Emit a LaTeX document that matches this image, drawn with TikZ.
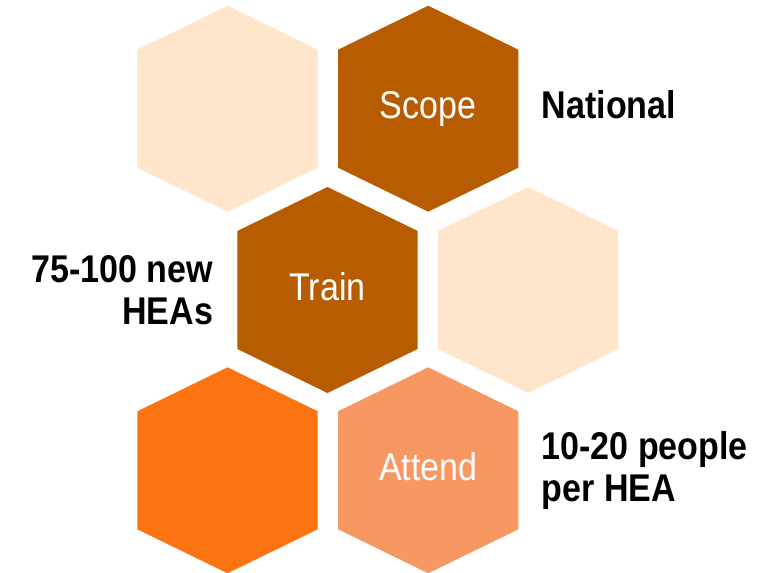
\documentclass[tikz,border=0pt]{standalone}
\usepackage{fontspec}
\setmainfont{Liberation Sans}
\newfontfamily\narrowfont[FakeStretch=0.88]{Liberation Sans}
\usepackage{xcolor}
\usetikzlibrary{positioning}

\definecolor{hexlight}{HTML}{FFE5CC}
\definecolor{hexbrown}{HTML}{B75C00}
\definecolor{hexorange}{HTML}{FC7312}
\definecolor{hexsalmon}{HTML}{F79862}

% hexagon cell: name, centre, colour
\newcommand{\hexcell}[3]{%
  \fill[#3,shift={(#2)}] (90.2,-59) -- (0,-103) -- (-90.2,-59) -- (-90.2,59) -- (0,103) -- (90.2,59) -- cycle;
  \path[shift={(#2)}] (0,0) coordinate (#1) (90.2,0) coordinate (#1-e) (-90.2,0) coordinate (#1-w);
}

\begin{document}
\begin{tikzpicture}[x=0.75pt,y=-0.75pt,
    hexlabel/.style={text=white,font=\narrowfont\fontsize{29}{34}\selectfont,
        text height=21.2pt,text depth=6.1pt,inner sep=0pt},
    sidelabel/.style={font=\narrowfont\bfseries\fontsize{29}{31.3}\selectfont,inner sep=0pt}]
    \useasboundingbox (0,0) rectangle (771,573);

    % top row
    \hexcell{blank1}{227.5,108.7}{hexlight}
    \hexcell{scope}{428.2,108.7}{hexbrown}

    % middle row
    \hexcell{train}{327.5,290}{hexbrown}
    \hexcell{blank2}{528.2,290}{hexlight}

    % bottom row
    \hexcell{orange}{227.5,470.3}{hexorange}
    \hexcell{attend}{428.2,470.3}{hexsalmon}

    % labels inside the hexagons
    \node[hexlabel] (scopetext) at (scope) {Scope};
    \node[hexlabel] (traintext) at (train) {Train};
    \node[hexlabel] (attendtext) at (attend) {Attend};

    % notes beside the hexagons
    \node[sidelabel, right=17.3pt of scope-e, yshift=3pt] (scopenote) {National};
    \node[sidelabel, align=right, left=18pt of train-w] (trainnote) {75-100 new\\HEAs};
    \node[sidelabel, align=left, right=17.3pt of attend-e] (attendnote) {10-20 people\\per HEA};
\end{tikzpicture}
\end{document}
